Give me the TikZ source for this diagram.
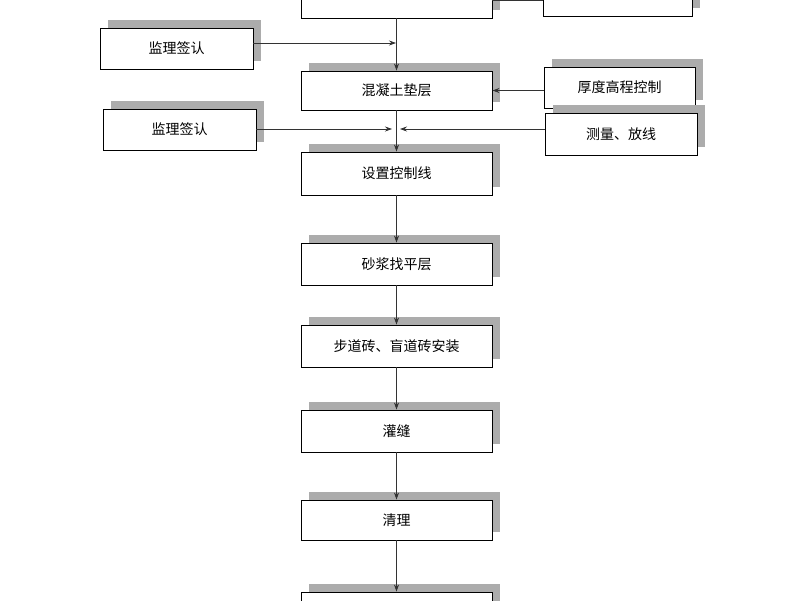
\documentclass[tikz,border=0pt]{standalone}
\usepackage{fontspec}
\setmainfont{Noto Sans CJK SC}
\usetikzlibrary{arrows.meta}
\begin{document}
\begin{tikzpicture}[x=1pt,y=-1pt,
  box/.style={draw=black,line width=0.9pt,fill=white,inner sep=0pt,font=\fontsize{14}{14}\selectfont},
  arr/.style={-{Stealth[length=7pt,width=5pt]},line width=0.7pt,gray!40!black}]
\useasboundingbox (0,0) rectangle (800,600);
\clip (0,0) rectangle (800,600);
\newcommand{\shbox}[6]{% name, x1,y1,x2,y2,text
  \fill[gray!65] (#2+8,#3-8) rectangle (#4+8,#5-8);
  \node[box,minimum width=#4-#2,minimum height=#5-#3] (#1) at ({(#2+#4)/2},{(#3+#5)/2}) {#6};}
\shbox{m0}{301}{-25}{492}{18}{}
\shbox{m1}{301}{71}{492}{110}{混凝土垫层}
\shbox{m2}{301}{152}{492}{195}{设置控制线}
\shbox{m3}{301}{243}{492}{285}{砂浆找平层}
\shbox{m4}{301}{325}{492}{367}{步道砖、盲道砖安装}
\shbox{m5}{301}{410}{492}{452}{灌缝}
\shbox{m6}{301}{500}{492}{540}{清理}
\shbox{m7}{301}{592}{492}{640}{}
\shbox{l1}{100}{28}{253}{69}{监理签认}
\shbox{l2}{103}{109}{256}{150}{监理签认}
\shbox{r0}{543}{-25}{692}{16}{}
\shbox{r1}{544}{67}{695}{108}{厚度高程控制}
\shbox{r2}{545}{113}{697}{155}{测量、放线}
\coordinate (j1) at (396,43);
\coordinate (j2) at (392,129);
\coordinate (j3) at (400,129);
\draw[arr] (m0.south) -- (m1.north);
\draw[arr] (m1.south) -- (m2.north);
\draw[arr] (m2.south) -- (m3.north);
\draw[arr] (m3.south) -- (m4.north);
\draw[arr] (m4.south) -- (m5.north);
\draw[arr] (m5.south) -- (m6.north);
\draw[arr] (m6.south) -- (m7.north);
\draw[arr] (l1.east|-j1) -- (j1);
\draw[arr] (l2.east|-j2) -- (j2);
\draw[arr] (r2.west|-j3) -- (j3);
\draw[arr] (r1.west|-m1.east) -- (m1.east);
\draw[line width=0.7pt,gray!40!black] (m0.east|-0,0) -- (r0.west|-0,0);
\end{tikzpicture}
\end{document}
